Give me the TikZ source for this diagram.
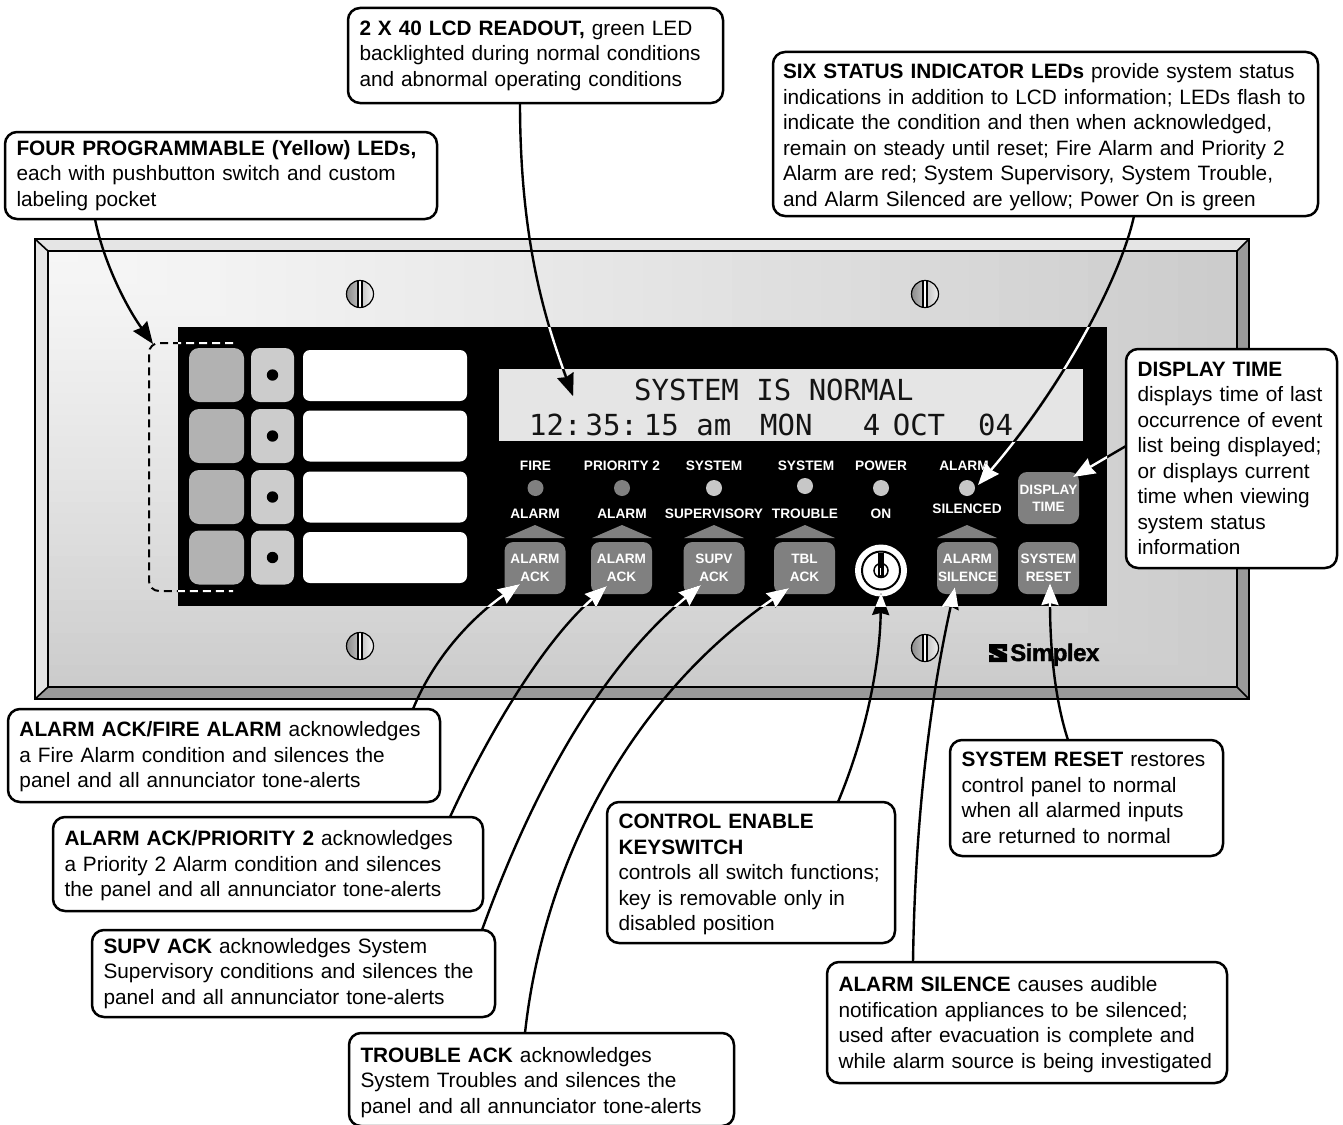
\documentclass[tikz,border=0pt]{standalone}
\usepackage{fontspec}
\setmainfont{Liberation Sans}
\newfontfamily\lcdfont{DejaVu Sans Mono}
\usetikzlibrary{arrows.meta,calc}
\newcommand{\dn}[1]{\rule{0pt}{\dimexpr 15pt+#1\relax}}
\tikzset{
  x=1pt,y=-1pt,
  callout/.style={draw=black,fill=white,line width=2.5pt,rounded corners=12pt,anchor=north west,
    align=left,inner xsep=11.5pt,inner ysep=0pt,outer sep=0pt,
    font=\fontsize{20.8}{25.5}\selectfont},
  conn/.style={line width=2.4pt,-{Stealth[length=22pt,width=17pt,inset=2pt]}},
  btn/.style={fill=black!50,rounded corners=9pt,minimum width=61pt,minimum height=52pt,inner sep=0pt,
    text=white,align=center,font=\fontsize{13.6}{17.5}\selectfont\bfseries},
  lbl/.style={text=white,inner sep=0pt,font=\fontsize{13.7}{16}\selectfont\bfseries},
  ledd/.style={circle,minimum size=16pt,inner sep=0pt},
  bigkey/.style={fill=black!30,rounded corners=10pt,minimum width=55pt,minimum height=54pt,inner sep=0pt},
  smallkey/.style={fill=black!20,rounded corners=9pt,minimum width=43pt,minimum height=54pt,inner sep=0pt},
  lblpocket/.style={fill=white,rounded corners=7pt,minimum width=164pt,minimum height=51pt,inner sep=0pt},
  edge/.style={draw=black,line width=2.8pt,line join=miter},
  lcdtext/.style={anchor=base west,inner sep=0pt,text=black!92,font=\fontsize{29}{29}\selectfont\lcdfont},
}
\newcommand{\conn}[1]{%
  \draw[conn,black] #1;
  \begin{scope}\clip (panelNW) rectangle (panelSE);\draw[conn,white] #1;\end{scope}
  \begin{scope}\clip (lcd.north west) rectangle (lcd.south east);\draw[conn,black] #1;\end{scope}}
\begin{document}
\begin{tikzpicture}
\useasboundingbox (0,0) rectangle (1343,1124);
\fill[white] (0,0) rectangle (1343,1124);
% face plate with stepped rectangular gradient
\fill[black!20] (48,251) rectangle (1237,687);
\foreach \k in {40,39,...,1}{
  \pgfmathsetmacro{\tt}{\k/40}
  \pgfmathsetmacro{\pp}{3.5+16.5*pow(\tt,1.3)}
  \fill[black!\pp] (48,251) rectangle ({48+1189*\tt},{251+436*\tt});
}
% bevel
\fill[black!10] (35,239) -- (1249,239) -- (1237,251) -- (48,251) -- (48,687) -- (35,699) -- cycle;
\fill[black!40] (1249,239) -- (1249,699) -- (35,699) -- (48,687) -- (1237,687) -- (1237,251) -- cycle;
\draw[edge] (35,239) rectangle (1249,699);
\draw[edge] (48,251) rectangle (1237,687);
\draw[line width=1.6pt] (35,239) -- (48,251) (1249,239) -- (1237,251) (35,699) -- (48,687) (1249,699) -- (1237,687);
% screws
\foreach \sx/\sy in {360/294,925/294,360/646,925/648}{
  \begin{scope}[shift={(\sx,\sy)}]
    \shade[left color=black!45,right color=black!5] (0,0) circle (13.5);
    \fill[white] (-2,-13) rectangle (2,13);
    \draw[line width=1.2pt] (0,0) circle (13.5);
    \draw[line width=1.2pt] (-2,-13) -- (-2,13) (2,-13) -- (2,13);
  \end{scope}
}
% black panel
\coordinate (panelNW) at (178,327);
\coordinate (panelSE) at (1107,606);
\fill[black] (panelNW) rectangle (panelSE);
% programmable keys
\foreach \n/\y/\ly in {1/375/375.5,2/436/436,3/497/497,4/557.5/557.5}{
  \node[bigkey] (big\n) at (216.5,\y) {};
  \node[smallkey] (small\n) at (272.5,\y) {};
  \fill[black] (small\n.center) circle (5.7);
  \node[lblpocket] (pocket\n) at (385,\ly) {};
}
% dashed bracket
\draw[line width=2pt,dash pattern=on 8pt off 5pt,rounded corners=10pt] (233,343) -- (149,343) -- (149,591) -- (233,591);
\begin{scope}\clip (panelNW) rectangle (panelSE);
\draw[white,line width=2pt,dash pattern=on 8pt off 5pt,rounded corners=10pt] (233,343) -- (149,343) -- (149,591) -- (233,591);
\end{scope}
% LCD
\node[fill=black!10,minimum width=584pt,minimum height=72pt,inner sep=0pt,outer sep=0pt] (lcd) at (791,405) {};
\node[lcdtext] (lcd1) at (634,400) {SYSTEM~IS~NORMAL};
\node[lcdtext] (lcd2) at (529,435) {12:\kern4pt 35:\kern6pt 15~am~~\kern-6pt MON~~~\kern-2pt 4~\kern-5pt OCT~~\kern-2pt 04};
% status labels
\foreach \n/\x/\t in {a/535.5/FIRE,b/622/PRIORITY 2,c/714/SYSTEM,d/806/SYSTEM,e/881/POWER,f/964/ALARM}{
  \node[lbl] (top\n) at (\x,466) {\t};
}
\node[lbl] (lowa) at (535,514) {ALARM};
\node[lbl] (lowb) at (622,514) {ALARM};
\node[lbl] (lowc) at (714,514) {SUPERVISORY};
\node[lbl] (lowd) at (805,514) {TROUBLE};
\node[lbl] (lowe) at (881,514) {ON};
\node[lbl] (lowf) at (967,509) {SILENCED};
\node[ledd,fill=black!50] (leda) at (535.5,488) {};
\node[ledd,fill=black!50] (ledb) at (622,488) {};
\node[ledd,fill=black!22] (ledc) at (714,488) {};
\node[ledd,fill=black!22] (ledd) at (805,486) {};
\node[ledd,fill=black!22] (lede) at (881,488) {};
\node[ledd,fill=black!22] (ledf) at (967,488) {};
% triangles
\foreach \x in {535,622,714,805,967}{
  \fill[black!50] (\x-30,538) -- (\x,525) -- (\x+30,538) -- cycle;
}
% buttons
\node[btn] (b1) at (535,568) {ALARM\\ACK};
\node[btn] (b2) at (621.5,568) {ALARM\\ACK};
\node[btn] (b3) at (714,568) {SUPV\\ACK};
\node[btn] (b4) at (804.5,568) {TBL\\ACK};
\node[btn] (b5) at (967.5,568) {ALARM\\SILENCE};
\node[btn] (b6) at (1048.5,568) {SYSTEM\\RESET};
\node[btn] (b7) at (1048.5,498) {DISPLAY\\TIME};
% keyswitch
\node[circle,fill=white,minimum size=52pt,inner sep=0pt] (key) at (881,570.5) {};
\draw[line width=2pt] (key.center) circle (19);
\draw[line width=1.5pt] (key.center) circle (7);
\fill[black] (877.5,553) rectangle (884,577);
\draw[white,line width=1pt] (880.5,568) -- (880.5,575);
% logo
\fill[black] (989,644) -- (1007,644) -- (1007,651) -- (1002.5,651) -- (1002.5,648.5) -- (996,648.5) -- (1007,654) -- (1007,662) -- (989,662) -- (989,655) -- (993.5,655) -- (993.5,657.5) -- (1000,657.5) -- (989,652) -- cycle;
\node[anchor=base west,inner sep=0pt,font=\fontsize{24}{24}\selectfont\bfseries\addfontfeatures{FakeBold=1.5,LetterSpace=-2}] (logo) at (1010,661) {Simplex};
% callouts
\node[callout,text width=409pt,minimum height=87pt] (c1) at (5,132) {\textbf{FOUR PROGRAMMABLE (Yellow) LEDs,}\\each with pushbutton switch and custom\\labeling pocket};
\node[callout,text width=352pt,minimum height=95pt] (c2) at (348,8) {\textbf{2 X 40 LCD READOUT,} green LED\\backlighted during normal conditions\\and abnormal operating conditions};
\node[callout,text width=525pt,inner xsep=10pt,minimum height=164pt] (c3) at (773,52) {\dn{6pt}\textbf{SIX STATUS INDICATOR LEDs} provide system status\\indications in addition to LCD information; LEDs flash to\\indicate the condition and then when acknowledged,\\remain on steady until reset; Fire Alarm and Priority 2\\Alarm are red; System Supervisory, System Trouble,\\and Alarm Silenced are yellow; Power On is green};
\node[callout,text width=188pt,minimum height=219pt] (c4) at (1126,349) {\textbf{DISPLAY TIME}\\displays time of last\\occurrence of event\\list being displayed;\\or displays current\\time when viewing\\system status\\information};
\node[callout,text width=409pt,minimum height=93pt] (c5) at (8,709) {\dn{3pt}\textbf{ALARM ACK/FIRE ALARM} acknowledges\\a Fire Alarm condition and silences the\\panel and all annunciator tone-alerts};
\node[callout,text width=407pt,minimum height=94pt] (c6) at (53,817) {\dn{4pt}\textbf{ALARM ACK/PRIORITY 2} acknowledges\\a Priority 2 Alarm condition and silences\\the panel and all annunciator tone-alerts};
\node[callout,text width=380pt,minimum height=87pt] (c7) at (92,930) {\textbf{SUPV ACK} acknowledges System\\Supervisory conditions and silences the\\panel and all annunciator tone-alerts};
\node[callout,text width=362pt,minimum height=93pt] (c8) at (349,1033) {\dn{6pt}\textbf{TROUBLE ACK} acknowledges\\System Troubles and silences the\\panel and all annunciator tone-alerts};
\node[callout,text width=265pt,minimum height=141pt] (c9) at (607,802) {\dn{4pt}\textbf{CONTROL ENABLE}\\\textbf{KEYSWITCH}\\controls all switch functions;\\key is removable only in\\disabled position};
\node[callout,text width=250pt,minimum height=116pt] (c10) at (950,740) {\textbf{SYSTEM RESET} restores\\control panel to normal\\when all alarmed inputs\\are returned to normal};
\node[callout,text width=377pt,minimum height=121pt] (c11) at (827,962) {\dn{4pt}\textbf{ALARM SILENCE} causes audible\\notification appliances to be silenced;\\used after evacuation is complete and\\while alarm source is being investigated};
% tips
\coordinate (tipdash) at (153,344);
\coordinate (tiplcd) at (573,396);
\coordinate (tipled) at (978,485);
\coordinate (tipdisp) at (1073,477);
\coordinate (tipb1) at (520,584);
\coordinate (tipb2) at (607,586);
\coordinate (tipb3) at (701,585);
\coordinate (tipb4) at (789,588);
\coordinate (tipkey) at (881,593);
\coordinate (tipb5) at (955,587);
\coordinate (tipb6) at (1050,583);
% connectors
\conn{($(c1.south west)+(90,0)$) .. controls (103,260) and (125,305) .. (tipdash)}
\conn{($(c2.south west)+(172,0)$) .. controls (520,240) and (545,320) .. (tiplcd)}
\conn{($(c3.south west)+(361,0)$) .. controls (1120,280) and (1060,390) .. (tipled)}
\conn{($(c4.north west)+(0,97)$) -- (tipdisp)}
\conn{($(c5.north west)+(405,0)$) .. controls (435,655) and (475,615) .. (tipb1)}
\conn{($(c6.north west)+(397,0)$) .. controls (490,730) and (545,640) .. (tipb2)}
\conn{($(c7.north west)+(390,0)$) .. controls (540,770) and (610,660) .. (tipb3)}
\conn{($(c8.north west)+(176,0)$) .. controls (545,850) and (640,690) .. (tipb4)}
\conn{($(c9.north west)+(231,0)$) .. controls (868,730) and (880,660) .. (tipkey)}
\conn{($(c11.north west)+(86,0)$) .. controls (915,820) and (930,700) .. (tipb5)}
\conn{($(c10.north west)+(118,0)$) .. controls (1055,700) and (1050,650) .. (tipb6)}
\end{tikzpicture}
\end{document}
